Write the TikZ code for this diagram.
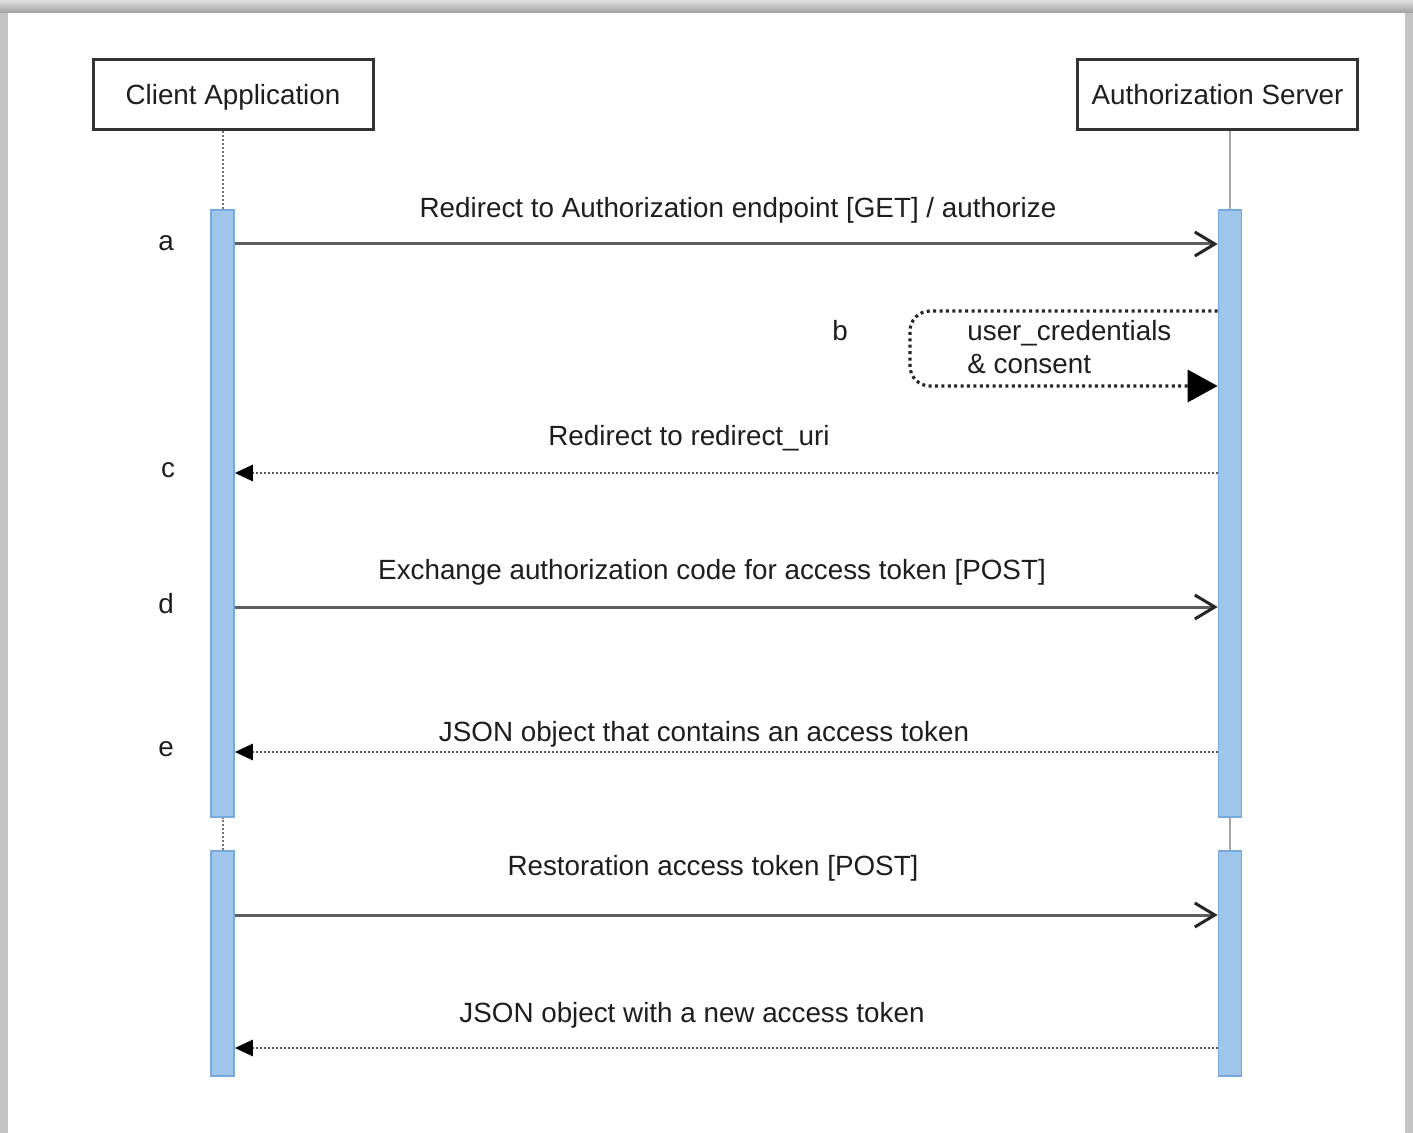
\documentclass[tikz,border=0pt]{standalone}
\usepackage{fontspec}
\setmainfont{Liberation Sans}
\usetikzlibrary{positioning, arrows.meta}
\definecolor{barBlue}{HTML}{9FC5EA}
\definecolor{barEdge}{HTML}{74AADF}
\definecolor{lineGrey}{HTML}{5E5E5E}
\definecolor{frameGrey}{HTML}{C4C4C4}
\definecolor{textDark}{HTML}{1E1E1E}

\begin{document}
\begin{tikzpicture}[x=0.5pt, y=-0.5pt,
    font=\fontsize{13.9}{16.5}\selectfont, text=textDark,
    actor/.style={draw=black!80, line width=1.5pt, minimum width=140pt,
      minimum height=35pt, inner sep=0pt},
    bar/.style={draw=barEdge, fill=barBlue, line width=0.8pt,
      minimum width=11.5pt, inner sep=0pt},
    call/.style={draw=lineGrey, line width=1.5pt,
      -{Straight Barb[length=10pt, width=12pt, line width=1.5pt, color=black!85]}},
    reply/.style={draw=black!65, line width=1.4pt, dash pattern=on 0.9pt off 1.1pt,
      -{Triangle[length=9pt, width=8pt, color=black]}},
    selfloop/.style={draw=black!85, line width=1.6pt, dash pattern=on 1.5pt off 1.7pt,
      rounded corners=10pt, -{Triangle[length=15pt, width=16pt, color=black]}},
    lbl/.style={anchor=base, inner sep=0pt},
    tag/.style={anchor=base, inner sep=0pt}]

    % frame
    \useasboundingbox (0,0) rectangle (1413,1133);
    \fill[frameGrey] (0,0) rectangle (1413,1133);
    \shade[top color=black!12, bottom color=black!38] (0,0) rectangle (1413,13);
    \fill[white] (8,13) rectangle (1405,1133);

    % participants
    \node[actor] (client) at (233,95) {};
    \node[lbl] at (233,105) {Client Application};
    \node[actor] (server) at (1217.5,95) {};
    \node[lbl] at (1217.5,105) {Authorization Server};

    % activation bars
    \node[bar, minimum height=303.5pt] (cbarA) at (222.5,513.5) {};
    \node[bar, minimum height=112.5pt] (cbarB) at (222.5,963.5) {};
    \node[bar, minimum height=303.5pt] (sbarA) at (1230,513.5) {};
    \node[bar, minimum height=112.5pt] (sbarB) at (1230,963.5) {};

    % lifelines
    \draw[black!55, line width=1pt, dash pattern=on 1pt off 1pt]
      (cbarA.north) -- (cbarA.north |- client.south);
    \draw[black!55, line width=1pt, dash pattern=on 1pt off 1pt]
      (cbarB.north) -- (cbarA.south);
    \draw[black!35, line width=1.2pt] (sbarA.north) -- (sbarA.north |- server.south);
    \draw[black!35, line width=1.2pt] (sbarB.north) -- (sbarA.south);

    % message heights
    \coordinate (ya) at (0,244);
    \coordinate (yb) at (0,311);
    \coordinate (yb2) at (0,386);
    \coordinate (yc) at (0,473);
    \coordinate (yd) at (0,607);
    \coordinate (ye) at (0,752);
    \coordinate (yf) at (0,915);
    \coordinate (yg) at (0,1048);
    \coordinate (bturn) at (910,311);

    % a
    \draw[call] (cbarA.east |- ya) -- (sbarA.west |- ya);
    \node[lbl] at (738,218) {Redirect to Authorization endpoint [GET] / authorize};
    \node[tag] (tagA) at (166,251) {a};

    % b
    \draw[selfloop] (sbarA.west |- yb) -- (bturn) -- (bturn |- yb2) -- (sbarA.west |- yb2);
    \node[lbl, anchor=base west, align=left] at (967,374) {user\_credentials\\\& consent};
    \node[tag] (tagB) at (840,341) {b};

    % c
    \draw[reply] (sbarA.west |- yc) -- (cbarA.east |- yc);
    \node[lbl] at (689,446) {Redirect to redirect\_uri};
    \node[tag] (tagC) at (168,478) {c};

    % d
    \draw[call] (cbarA.east |- yd) -- (sbarA.west |- yd);
    \node[lbl] at (712,580) {Exchange authorization code for access token [POST]};
    \node[tag] (tagD) at (166,613) {d};

    % e
    \draw[reply] (sbarA.west |- ye) -- (cbarA.east |- ye);
    \node[lbl] at (704,741) {JSON object that contains an access token};
    \node[tag] (tagE) at (166,756) {e};

    % refresh
    \draw[call] (cbarB.east |- yf) -- (sbarB.west |- yf);
    \node[lbl] at (713,875) {Restoration access token [POST]};
    \draw[reply] (sbarB.west |- yg) -- (cbarB.east |- yg);
    \node[lbl] at (692,1022) {JSON object with a new access token};
\end{tikzpicture}
\end{document}
